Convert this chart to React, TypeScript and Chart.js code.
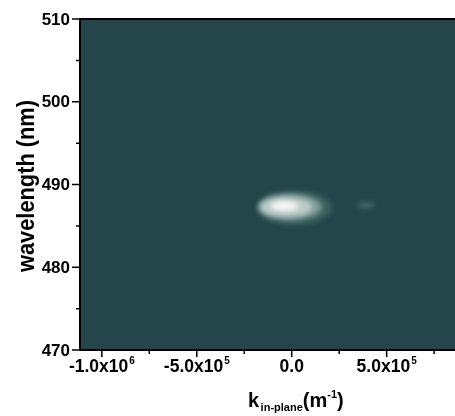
import React, { useEffect, useRef } from "react";
import { Chart, registerables } from "chart.js";

Chart.register(...registerables);

// Axis ranges and ticks
const xRange = [-1.115e6, 8.6e5];
const yRange = [470, 510];
const xMajorTicks = [-1e6, -5e5, 0, 5e5];
const xTickBase = ["-1.0x10", "-5.0x10", "0.0", "5.0x10"];
const xTickExp = ["6", "5", "", "5"];
const xMinorTicks = [-7.5e5, -2.5e5, 2.5e5, 7.5e5];
const yMajorTicks = [470, 480, 490, 500, 510];
const yMinorTicks = [475, 485, 495, 505];

// Intensity contours (outer -> inner): centre k, centre wavelength, half-width k, half-height wavelength, colour
const spotK = [1.5e4, -9e3, -2.7e4, -3.8e4, 3.9e5];
const spotL = [487.16, 487.28, 487.28, 487.4, 487.5];
const spotHalfK = [1.97e5, 1.68e5, 1.36e5, 7.2e4, 4.7e4];
const spotHalfL = [2.05, 1.57, 1.15, 0.6, 0.3];
const spotColor = ["#3a615f", "#7f9c99", "#bccdca", "#f4f7f6", "#4a706d"];

const BG = "#24464a";
const FONT = "'Liberation Sans', Arial, sans-serif";

const drawPlugin = {
  id: "heatmapDraw",
  beforeDatasetsDraw(chart: any) {
    const { ctx, chartArea: a } = chart;
    const xs = chart.scales.x;
    const ys = chart.scales.y;
    ctx.save();
    ctx.fillStyle = BG;
    ctx.fillRect(a.left, a.top, a.right - a.left, a.bottom - a.top);
    ctx.beginPath();
    ctx.rect(a.left, a.top, a.right - a.left, a.bottom - a.top);
    ctx.clip();
    ctx.filter = "blur(2.5px)";
    for (let i = 0; i < spotK.length; i++) {
      const cx = xs.getPixelForValue(spotK[i]);
      const cy = ys.getPixelForValue(spotL[i]);
      const rx = Math.abs(xs.getPixelForValue(spotK[i] + spotHalfK[i]) - cx);
      const ry = Math.abs(ys.getPixelForValue(spotL[i] + spotHalfL[i]) - cy);
      ctx.fillStyle = spotColor[i];
      ctx.beginPath();
      ctx.ellipse(cx, cy, rx, ry, 0, 0, Math.PI * 2);
      ctx.fill();
    }
    ctx.restore();
  },
  afterDraw(chart: any) {
    const { ctx, chartArea: a } = chart;
    const xs = chart.scales.x;
    const ys = chart.scales.y;
    ctx.save();
    ctx.strokeStyle = "#000";
    ctx.fillStyle = "#000";
    ctx.lineWidth = 2;
    // frame
    ctx.beginPath();
    ctx.moveTo(a.left, a.top);
    ctx.lineTo(a.right, a.top);
    ctx.moveTo(a.left, a.top - 1);
    ctx.lineTo(a.left, a.bottom);
    ctx.moveTo(a.left - 1, a.bottom);
    ctx.lineTo(a.right, a.bottom);
    ctx.stroke();
    // ticks
    ctx.lineWidth = 1.5;
    ctx.beginPath();
    yMajorTicks.forEach((v) => {
      const y = ys.getPixelForValue(v);
      ctx.moveTo(a.left - 8, y);
      ctx.lineTo(a.left, y);
    });
    yMinorTicks.forEach((v) => {
      const y = ys.getPixelForValue(v);
      ctx.moveTo(a.left - 4, y);
      ctx.lineTo(a.left, y);
    });
    xMajorTicks.forEach((v) => {
      const x = xs.getPixelForValue(v);
      ctx.moveTo(x, a.bottom);
      ctx.lineTo(x, a.bottom + 7);
    });
    xMinorTicks.forEach((v) => {
      const x = xs.getPixelForValue(v);
      if (x < a.right) {
        ctx.moveTo(x, a.bottom);
        ctx.lineTo(x, a.bottom + 4);
      }
    });
    ctx.stroke();
    // y tick labels
    ctx.font = `bold 17px ${FONT}`;
    ctx.textAlign = "right";
    ctx.textBaseline = "middle";
    yMajorTicks.forEach((v) => {
      ctx.fillText(String(v), a.left - 10, ys.getPixelForValue(v) + 1);
    });
    // x tick labels with superscripts
    ctx.textBaseline = "alphabetic";
    ctx.textAlign = "left";
    xMajorTicks.forEach((v, i) => {
      ctx.font = `bold 17.5px ${FONT}`;
      const wb = ctx.measureText(xTickBase[i]).width;
      ctx.font = `bold 10px ${FONT}`;
      const we = xTickExp[i] ? ctx.measureText(xTickExp[i]).width + 1 : 0;
      const x0 = xs.getPixelForValue(v) - (wb + we) / 2;
      ctx.font = `bold 17.5px ${FONT}`;
      ctx.fillText(xTickBase[i], x0, a.bottom + 22);
      if (xTickExp[i]) {
        ctx.font = `bold 10px ${FONT}`;
        ctx.fillText(xTickExp[i], x0 + wb + 1, a.bottom + 14);
      }
    });
    // x title: k_in-plane(m^-1)
    let x = 248;
    const base = 407;
    ctx.font = `bold 20px ${FONT}`;
    ctx.fillText("k", x, base);
    x += ctx.measureText("k").width + 1.5;
    ctx.font = `bold 11px ${FONT}`;
    ctx.fillText("in-plane", x, base + 4);
    x += ctx.measureText("in-plane").width;
    ctx.font = `bold 20px ${FONT}`;
    ctx.fillText("(m", x, base);
    x += ctx.measureText("(m").width;
    ctx.font = `bold 11px ${FONT}`;
    ctx.fillText("-1", x, base - 9);
    x += ctx.measureText("-1").width;
    ctx.font = `bold 20px ${FONT}`;
    ctx.fillText(")", x, base);
    // y title (tall, condensed)
    ctx.save();
    ctx.translate(34, 186);
    ctx.rotate(-Math.PI / 2);
    ctx.font = `bold 23px ${FONT}`;
    const title = "wavelength (nm)";
    const tw = ctx.measureText(title).width;
    ctx.scale(172 / tw, 1);
    ctx.textAlign = "center";
    ctx.textBaseline = "alphabetic";
    ctx.fillText(title, 0, 0);
    ctx.restore();
    ctx.restore();
  },
};

export default function App() {
  const ref = useRef<HTMLCanvasElement | null>(null);
  useEffect(() => {
    document.body.style.margin = "0";
    const chart = new Chart(ref.current as HTMLCanvasElement, {
      type: "scatter",
      data: {
        datasets: [
          {
            data: spotK.map((k, i) => ({ x: k, y: spotL[i] })),
            pointRadius: 0,
            showLine: false,
          },
        ],
      },
      options: {
        animation: false,
        responsive: false,
        events: [],
        layout: { padding: { left: 80, top: 19, right: 0, bottom: 66 } },
        plugins: { legend: { display: false }, tooltip: { enabled: false } },
        scales: {
          x: { type: "linear", display: false, min: xRange[0], max: xRange[1] },
          y: { type: "linear", display: false, min: yRange[0], max: yRange[1] },
        },
      },
      plugins: [drawPlugin],
    });
    return () => chart.destroy();
  }, []);
  return (
    <div style={{ width: 455, height: 416, background: "#fff" }}>
      <canvas ref={ref} width={455} height={416} style={{ display: "block" }} />
    </div>
  );
}
